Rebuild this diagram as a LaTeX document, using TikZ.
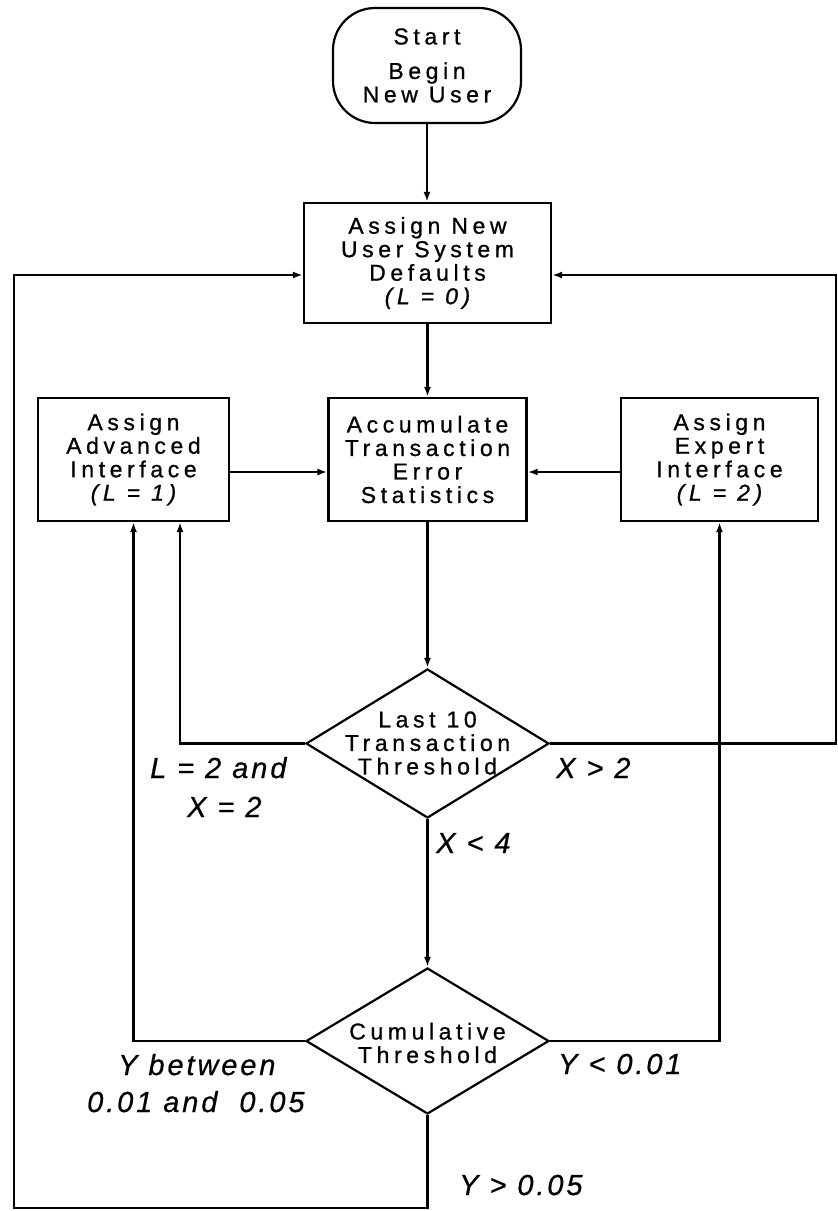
\documentclass[tikz,border=0pt]{standalone}
\usepackage{fontspec}
\setmainfont{Liberation Sans}
\newfontfamily\boxfont[LetterSpace=20,FakeBold=0.8]{Liberation Sans}
\newfontfamily\labfont[LetterSpace=10,FakeBold=0.6]{Liberation Sans}
\usetikzlibrary{arrows.meta,shapes.geometric}
\tikzset{
  boxtext/.style={font=\boxfont\fontsize{23}{23.5}\selectfont, align=center},
  procbox/.style={boxtext, draw, line width=2.2pt, inner sep=0pt},
  startbox/.style={boxtext, draw, line width=2.2pt, inner sep=0pt, rounded corners=42pt},
  decision/.style={draw, diamond, line width=2.2pt, inner sep=0pt},
  condlabel/.style={font=\labfont\itshape\fontsize{29}{31}\selectfont, anchor=base west, inner sep=0pt},
  arr/.style={line width=2.4pt, -{Latex[length=10pt,width=7pt]}},
  plain/.style={line width=2.4pt}
}
\begin{document}
\begin{tikzpicture}[x=1pt,y=-1pt]
\useasboundingbox (0,0) rectangle (838,1211);

% nodes
\node[startbox, minimum width=188pt, minimum height=115pt] (start) at (427,65.5)
  {Start\\[11pt]Begin\\New User};
\node[procbox, minimum width=247pt, minimum height=120pt] (new) at (427.5,263)
  {Assign New\\User System\\Defaults\\\itshape (L = 0)};
\node[procbox, minimum width=191pt, minimum height=123pt] (adv) at (133.5,459.5)
  {Assign\\Advanced\\Interface\\\itshape (L = 1)};
\node[procbox, minimum width=198pt, minimum height=123pt] (acc) at (427.5,459.5)
  {Accumulate\\Transaction\\Error\\Statistics};
\node[procbox, minimum width=197pt, minimum height=123pt] (exp) at (719.5,459.5)
  {Assign\\Expert\\Interface\\\itshape (L = 2)};
\node[decision, minimum width=243pt, minimum height=149pt] (d1) at (427.5,743.5) {};
\node[boxtext] (d1t) at (427.5,743) {Last 10\\Transaction\\Threshold};
\node[decision, minimum width=243pt, minimum height=146pt] (d2) at (427.5,1041) {};
\node[boxtext] (d2t) at (427.5,1043) {Cumulative\\Threshold};

% helper coordinates
\coordinate (bl) at (14,1208);
\coordinate (tl) at (14,275);
\coordinate (tr) at (836,275);
\coordinate (hy) at (0,472);

% connectors
\draw[arr] (start.south) -- (start.south |- new.north);
\draw[arr] (new) -- (acc);
\draw[arr] (acc) -- (d1);
\draw[arr] (d1) -- (d2);
\draw[arr] (adv.east |- hy) -- (acc.west |- hy);
\draw[arr] (exp.west |- hy) -- (acc.east |- hy);
\draw[arr] (d1.west) -| ([xshift=46.5pt]adv.south);
\draw[arr] (d1.east) -| (tr) -- (tr -| new.east);
\draw[arr] (d2.west) -| (adv.south);
\draw[arr] (d2.east) -| (exp.south);
\draw[arr] (d2.south) |- (bl) -- (tl) -- (tl -| new.west);

% labels
\node[condlabel] (l1) at (150,778) {L = 2 and};
\node[condlabel] (l2) at (187,817) {X = 2};
\node[condlabel] (l3) at (556,778) {X > 2};
\node[condlabel] (l4) at (436,853) {X < 4};
\node[condlabel] (l5) at (118,1075) {Y between};
\node[condlabel] (l6) at (87,1112) {0.01 and\ \ 0.05};
\node[condlabel] (l7) at (558,1074) {Y < 0.01};
\node[condlabel] (l8) at (459,1195) {Y > 0.05};
\end{tikzpicture}
\end{document}
